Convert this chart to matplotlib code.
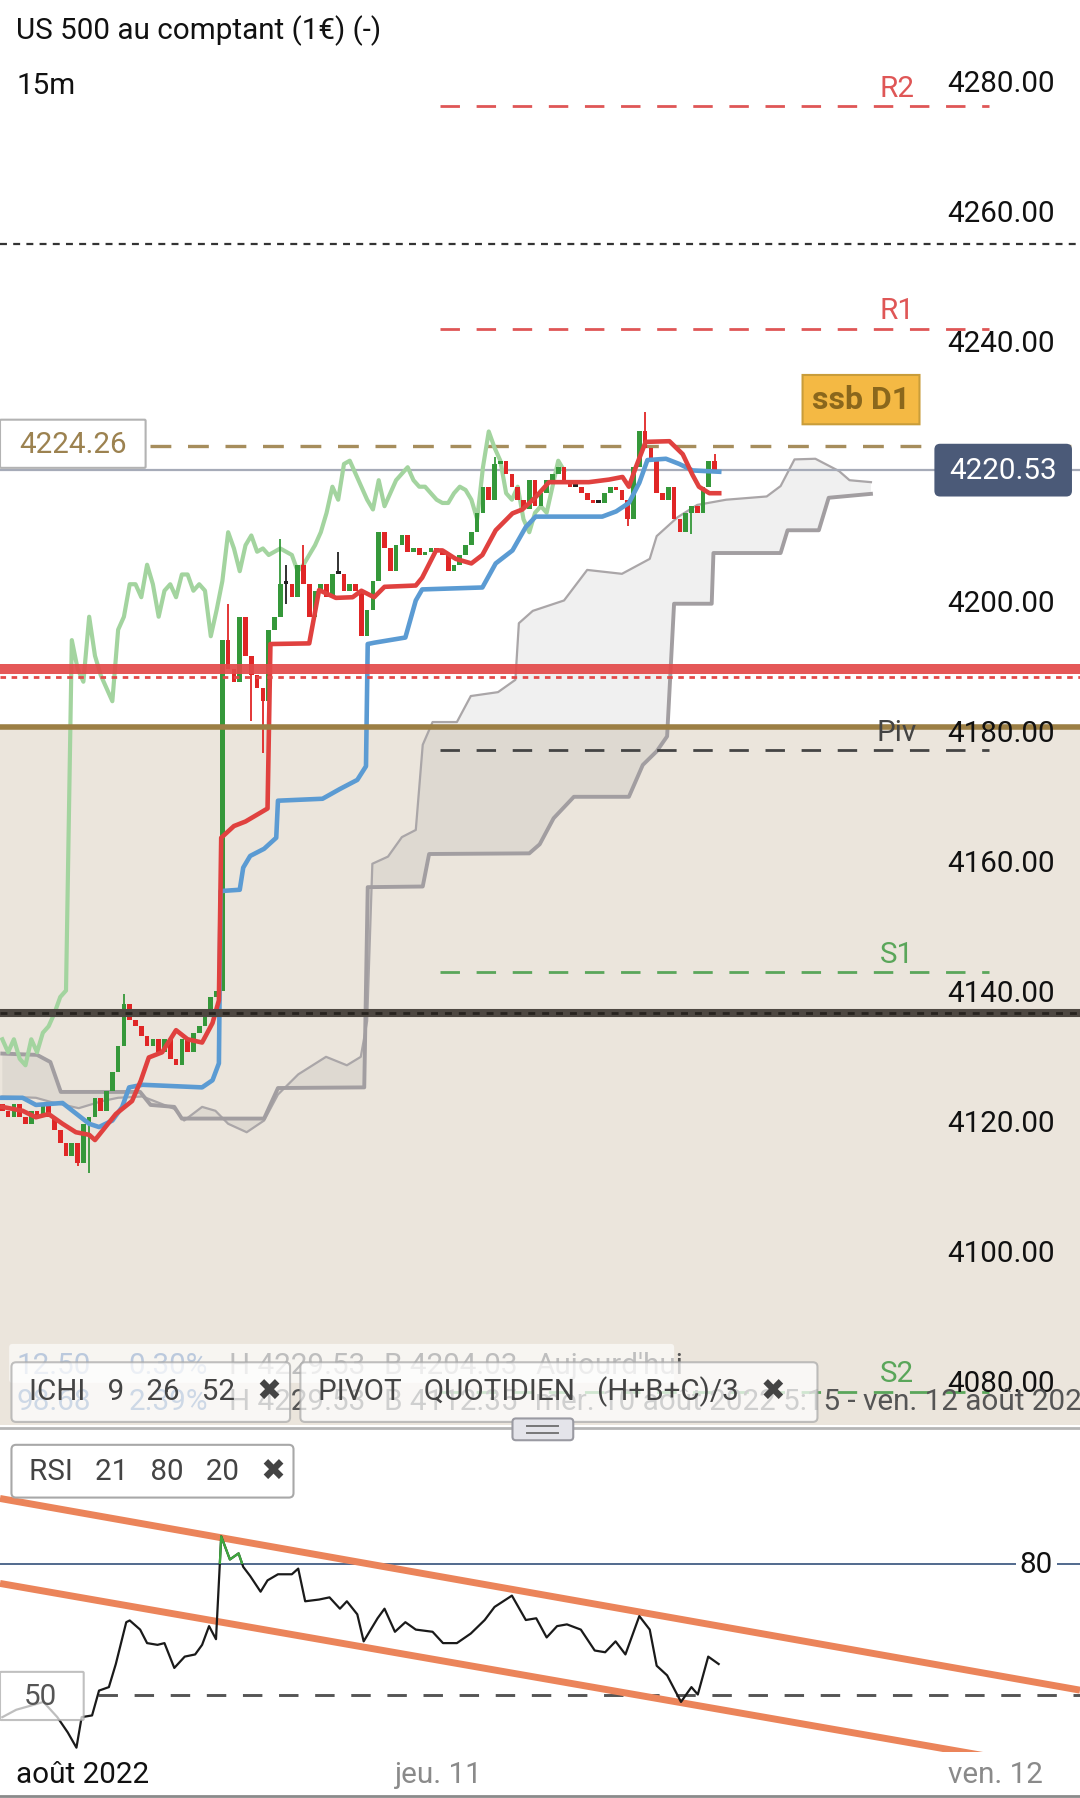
import numpy as np
import matplotlib
matplotlib.use("Agg")
import matplotlib.pyplot as plt
from matplotlib.patches import FancyBboxPatch, Rectangle

plt.rcParams['font.family'] = ['Roboto', 'DejaVu Sans']
plt.rcParams['lines.scale_dashes'] = False

# ---- candles (15m closes, open = previous close) ----
first_open = 4123
closes = [
    4122, 4121, 4123, 4121, 4120, 4122, 4121, 4123, 4121, 4119, 4117, 4115, 4117, 4114,
    4120, 4121, 4124, 4122, 4125, 4128, 4132, 4138.5, 4136, 4135, 4133.5, 4132, 4133, 4131,
    4133, 4130, 4129, 4133, 4131, 4134, 4135, 4137, 4139.5, 4140.5, 4194.4, 4190, 4188, 4198,
    4192, 4189, 4187, 4185, 4196, 4198, 4203, 4203, 4201, 4206, 4203, 4198, 4202, 4203,
    4201, 4204.5, 4204.5, 4202, 4203, 4202, 4195, 4199, 4203.5, 4211, 4208.5, 4205, 4209, 4210.5,
    4208, 4208.5, 4207.5, 4208, 4208.5, 4208, 4207.5, 4205, 4206, 4207.5, 4209, 4211, 4214, 4218,
    4216, 4221.5, 4222, 4220, 4218, 4216, 4214.5, 4219, 4215, 4217, 4219, 4220, 4221, 4219,
    4218, 4218, 4217, 4216, 4215.5, 4215.5, 4217, 4218, 4217.5, 4216, 4213, 4221, 4226.5, 4224,
    4222, 4217, 4216, 4218, 4213, 4211, 4214, 4215, 4214, 4218, 4222, 4220.5,
]
wick_high = {21: 4140, 39: 4200, 48: 4210, 49: 4206, 52: 4209, 58: 4208, 85: 4222.5, 111: 4229.5, 123: 4223}
wick_low = {13: 4113.5, 15: 4112.5, 43: 4182, 45: 4177, 49: 4200, 108: 4212, 119: 4210.8}

# ---- ichimoku lines, read as (bar, value) ----
tenkan = [(0, 4122.6), (3.5, 4122), (5.8, 4121), (8, 4121.5), (10.4, 4120), (12.7, 4118.7), (15, 4118.3),
          (16, 4117.5), (17.8, 4119.5), (19.6, 4121.5), (22.4, 4123.5), (23.9, 4126.6), (25.3, 4130.2),
          (27.6, 4131), (30, 4134.4), (32, 4133), (34.5, 4132.5), (36.3, 4135.5), (37.4, 4139), (37.8, 4164),
          (40, 4165.8), (42, 4166.5), (45.8, 4168.5), (46.3, 4193.8), (53, 4193.9), (54.7, 4202.1),
          (57.6, 4200.9), (60.5, 4201), (62, 4202), (64.2, 4201), (66, 4202.6), (71.4, 4202.8), (72.5, 4204),
          (74.9, 4208.2), (76, 4208.2), (78.3, 4206.9), (81, 4206.2), (82.9, 4207.5), (85.2, 4211.3),
          (88.1, 4213.9), (89.8, 4214.5), (92.1, 4216.4), (94.4, 4218.7), (101.3, 4218.7), (104.8, 4219.1),
          (107.1, 4219.5), (108.2, 4218), (109.4, 4221), (111.1, 4224.9), (115.2, 4225), (117.5, 4223),
          (119.2, 4219.8), (120.3, 4218), (122.1, 4217), (123.8, 4217)]
kijun = [(0, 4124), (3.5, 4124), (5.8, 4122.9), (10.4, 4123.2), (12.7, 4121.6), (15, 4120), (16.7, 4119.5),
         (19, 4120.5), (20.7, 4122.6), (21.9, 4125.6), (24.2, 4126), (34.5, 4125.6), (36.3, 4126.7),
         (37.4, 4129.3), (37.7, 4155.8), (41, 4156), (41.6, 4159.4), (42.8, 4161.2), (45.2, 4162.3),
         (47.3, 4164), (47.6, 4169.7), (55.3, 4170), (58.3, 4171.5), (61.3, 4172.9), (62.8, 4175),
         (63.1, 4193.8), (64.2, 4194), (69.6, 4194.8), (71.4, 4200.5), (72.5, 4202.2), (82.9, 4202.5),
         (85.2, 4206.2), (88.1, 4208.2), (90.4, 4211.8), (92.1, 4213.4), (103.6, 4213.4), (106, 4214.2),
         (108.2, 4215.5), (110, 4218.6), (111.4, 4222.1), (114.6, 4222.3), (116.9, 4221.5), (119.2, 4220.5),
         (123.8, 4220.3)]
senkou_a = [(0, 4124.2), (5.8, 4124), (8.6, 4123.3), (13.2, 4122.4), (17.3, 4123.5), (20, 4124), (24.2, 4124.2),
            (29.7, 4122.3), (31.4, 4120.5), (34.5, 4122.6), (36.8, 4122), (39, 4120), (42.2, 4118.7),
            (45.2, 4120.5), (47.6, 4124.5), (51.1, 4127.6), (55.9, 4130.3), (59.5, 4129), (61.9, 4130.3),
            (63, 4135.8), (63.9, 4160), (66.6, 4161.1), (69, 4164.1), (71.4, 4165.2), (72.6, 4178.3),
            (74.3, 4181.8), (78.5, 4181.8), (80.9, 4185.8), (85.6, 4186.4), (88.6, 4188.3), (89.2, 4197),
            (91.6, 4198.9), (97, 4200.5), (101, 4205.2), (107, 4204.6), (111.8, 4206.9), (113, 4210.4),
            (116.6, 4213.3), (120, 4215.2), (125, 4216), (132, 4216.5), (134.4, 4218.1), (136.8, 4222.2),
            (140.4, 4222.3), (144.5, 4220.4), (146.3, 4219), (150, 4218.7)]
senkou_b = [(0, 4130.8), (6, 4130.6), (8.3, 4129.5), (10.1, 4124.9), (23.8, 4124.9), (25.6, 4122.9),
            (29.7, 4122.6), (31, 4120.8), (45.2, 4120.8), (47.6, 4125.5), (62.5, 4125.6), (63.1, 4156.4),
            (72.6, 4156.5), (73.7, 4161.5), (91, 4161.6), (92.8, 4163), (95.2, 4167), (98.7, 4170.3),
            (108.2, 4170.3), (110.6, 4175.2), (113, 4177.3), (114.8, 4179.6), (116, 4200), (122.5, 4200),
            (122.8, 4207.8), (134.4, 4207.8), (135.6, 4211.3), (141, 4211.3), (142.7, 4216.3), (150, 4216.9)]
chikou_shift = 26

# ---- levels ----
price_ticks = [4280, 4260, 4240, 4220, 4200, 4180, 4160, 4140, 4120, 4100, 4080]
pivot_names = ['R2', 'R1', 'Piv', 'S1', 'S2']
pivot_levels = [4276.5, 4242.3, 4177.5, 4143.3, 4078.8]
pivot_colors = ['#df5656', '#df5656', '#444444', '#5aa65a', '#5aa65a']
pivot_span = (75.5, 170.3)
last_price = 4220.53
ssb_level = 4224.26
dotted_level = 4255.3
red_level = 4190.0
red_dotted_level = 4188.8
olive_level = 4181.0
dark_level = 4137.0

# ---- RSI ----
rsi = [(0, 44.8), (2.4, 46.5), (4.8, 47.4), (7.1, 48.3), (9.5, 44.8), (11.3, 41.3), (12.8, 37.8), (13.7, 44.8),
       (15.5, 45.2), (16.7, 50.9), (18.4, 51.7), (19.6, 57), (21.4, 66.6), (22, 67), (23.8, 64.9), (25, 61.8),
       (26.8, 61.4), (28, 61.8), (29.7, 56.1), (31.5, 58.7), (33.3, 59.2), (34.5, 61.4), (35.7, 65.7),
       (36.9, 62.7), (37.8, 86.3), (39.3, 81), (40.8, 82.4), (41.6, 79.3), (42.8, 77.2), (44.6, 73.6),
       (45.8, 76.2), (47.6, 77.6), (50, 77.6), (51.1, 78.9), (52.3, 71.4), (54.7, 71.8), (56.5, 72.3),
       (58.3, 69.7), (59.5, 71.4), (61.3, 68.4), (62.4, 62.2), (64.8, 67.5), (66, 69.7), (67.8, 64.4),
       (69.6, 66.6), (71.4, 64.9), (74.3, 64.4), (76.1, 61.8), (78.5, 61.8), (80.9, 64), (83.3, 67.1),
       (85, 70.1), (88, 72.7), (90.4, 67.1), (92.2, 67.5), (94, 63.1), (95.8, 65.7), (97.5, 66.1),
       (99.9, 64.9), (102.3, 60.1), (104.1, 59.7), (105.9, 62.2), (107.6, 59.2), (110, 68), (111.8, 64.9),
       (113, 56.6), (114.8, 54.4), (117.2, 48.3), (119, 51.7), (120.1, 50), (121.9, 58.7), (123.7, 57)]
rsi_upper_channel = [(-0.4, 95.0), (186.1, 51.0)]
rsi_lower_channel = [(-0.4, 75.5), (186.1, 32.1)]
rsi_high, rsi_mid = 80, 50

# ---- figure layout (reference measured on a 942 px wide grid) ----
W, H = 1080, 1798
S = W / 942.0
fig = plt.figure(figsize=(W / 100, H / 100), dpi=100)


def band(y0, y1):
    return [0, 1 - y1 * S / H, 1, (y1 - y0) * S / H]


ax = fig.add_axes(band(0, 1243))
rax = fig.add_axes(band(1250, 1528))
ov = fig.add_axes([0, 0, 1, 1])
ov.set_xlim(0, 942)
ov.set_ylim(1568, 0)
ov.axis('off')
ov.set_zorder(20)

XMIN, XMAX = -0.4, 186.1
ax.set_xlim(XMIN, XMAX)
ax.set_ylim(4073.65, 4292.87)
rax.set_xlim(XMIN, XMAX)
rax.set_ylim(36.84, 110)
for a in (ax, rax):
    a.set_axis_off()

FS = 21.3

# background zone below pivot
ax.axhspan(4000, olive_level, color='#ebe5dc', lw=0, zorder=0)

# cloud
sa = np.array(senkou_a)
sb = np.array(senkou_b)
ax.fill(np.r_[sa[:, 0], sb[::-1, 0]], np.r_[sa[:, 1], sb[::-1, 1]], color='#8e8e8e', alpha=0.13, lw=0, zorder=1)
ax.plot(sa[:, 0], sa[:, 1], color='#aaa6a8', lw=1.6, zorder=2)
ax.plot(sb[:, 0], sb[:, 1], color='#a29ea1', lw=2.8, zorder=2)

# horizontal levels
ax.axhline(dotted_level, color='#333333', lw=1.6, ls=(0, (5, 4.5)), zorder=3)
ax.axhline(ssb_level, color='#a68d5c', lw=2.4, ls=(0, (15, 12)), zorder=3)
ax.axhline(last_price, color='#a6abb8', lw=1.6, zorder=3)

# chikou
cl = np.array(closes)
bars = np.arange(len(cl))
ax.plot(bars[:-chikou_shift], cl[chikou_shift:], color='#a3d49f', lw=3.0, zorder=3, solid_joinstyle='round')

# candles
opens = np.r_[first_open, cl[:-1]]
cols = ['#35983a' if c > o else ('#e02626' if c < o else '#222222') for o, c in zip(opens, cl)]
tops = np.maximum(opens, cl)
bots = np.minimum(opens, cl)
highs = np.array([wick_high.get(i, t) for i, t in enumerate(tops)])
lows = np.array([wick_low.get(i, b) for i, b in enumerate(bots)])
ax.vlines(bars, lows, highs, colors=cols, lw=1.3, zorder=4)
ax.bar(bars, np.maximum(tops - bots, 0.5), bottom=bots, width=0.8, color=cols, lw=0, zorder=4)

# tenkan / kijun
tk = np.array(tenkan)
kj = np.array(kijun)
ax.plot(kj[:, 0], kj[:, 1], color='#5b9bd3', lw=3.3, zorder=5, solid_joinstyle='round')
ax.plot(tk[:, 0], tk[:, 1], color='#e0413f', lw=3.3, zorder=5, solid_joinstyle='round')

# strong levels
ax.axhline(red_level, color='#e34a4a', lw=7.2, alpha=0.92, zorder=6)
ax.axhline(red_dotted_level, color='#e34a4a', lw=2.0, ls=(0, (4, 4)), zorder=6)
ax.axhline(olive_level, color='#9c7f45', lw=4.0, zorder=6)
ax.axhline(dark_level, color='#4e4842', lw=5.8, zorder=6)
ax.axhline(dark_level, color='#27231f', lw=2.0, ls=(0, (5, 5)), zorder=6)

# daily pivots
for name, lvl, col in zip(pivot_names, pivot_levels, pivot_colors):
    ax.hlines(lvl, pivot_span[0], pivot_span[1], colors=col, lw=2.0, linestyles=[(0, (14, 12))], zorder=6)
    ax.annotate(name, (154.5, lvl), xytext=(0, 12.5), textcoords='offset points', ha='center', va='center',
                fontsize=FS, color=col, zorder=7)

# price scale
yt = ax.get_yaxis_transform()
for v in price_ticks:
    ax.text(0.9766, v, f'{v:.2f}', transform=yt, ha='right', va='center', fontsize=FS, color='#111111', zorder=8)


def box(x0, y0, x1, y1, fc, ec='none', lw=1.5, r=4, alpha=1.0, z=1):
    p = FancyBboxPatch((x0, y0), x1 - x0, y1 - y0, boxstyle=f'round,pad=0,rounding_size={r}',
                       fc=fc, ec=ec, lw=lw, alpha=alpha, zorder=z)
    ov.add_patch(p)


# price tags
box(815, 387, 935, 433, '#4b5a78', r=5, z=3)
ov.text(875, 411, f'{last_price:.2f}', ha='center', va='center', fontsize=FS, color='white', zorder=4)
box(0, 366, 127, 408, 'white', '#b3b3b3', r=1, z=3)
ov.text(64, 388, f'{ssb_level:.2f}', ha='center', va='center', fontsize=FS, color='#9c8250', zorder=4)
box(700, 327, 802, 370, '#f4b944', '#c99d3a', lw=1.5, r=0, z=3)
ov.text(751, 349, 'ssb D1', ha='center', va='center', fontsize=23, weight='bold', color='#8a671c', zorder=4)

# header
ov.text(14, 27, 'US 500 au comptant (1€) (-)', ha='left', va='center', fontsize=FS, color='#111111')
ov.text(14, 75, '15m', ha='left', va='center', fontsize=FS, color='#111111')

# info rows behind indicator legends
row_x = [14, 112, 200, 335, 467]
row1 = ['12.50', '0.30%', 'H 4229.53', 'B 4204.03', "Aujourd'hui"]
row2 = ['98.68', '2.39%', 'H 4229.53', 'B 4112.35', 'mer. 10 août 2022 5:15 - ven. 12 août 2022 3:15']
for x, t1, t2, k in zip(row_x, row1, row2, range(5)):
    c = '#4f74a6' if k < 2 else '#555555'
    ov.text(x, 1191, t1, ha='left', va='center', fontsize=FS, color=c, zorder=1)
    ov.text(x, 1223, t2, ha='left', va='center', fontsize=FS, color=c, zorder=1)
box(8, 1172, 588, 1206, 'white', alpha=0.62, r=3, z=2)
box(10, 1188, 253, 1240, 'white', '#a8a8a8', lw=1.5, r=4, alpha=0.72, z=3)
box(262, 1188, 713, 1240, 'white', '#a8a8a8', lw=1.5, r=4, alpha=0.72, z=3)
ov.text(25, 1214, 'ICHI   9   26   52   ✖', ha='left', va='center', fontsize=FS, color='#444444', zorder=4)
ov.text(277, 1214, 'PIVOT   QUOTIDIEN   (H+B+C)/3   ✖', ha='left', va='center', fontsize=FS,
        color='#444444', zorder=4)

# panel separator
ov.plot([0, 942], [1245, 1245], color='#b5b5b5', lw=2, zorder=2)
box(447, 1237, 500, 1256, '#e4e4ea', '#9a9aa2', lw=1.5, r=3, z=3)
ov.plot([460, 487], [1243.5, 1243.5], color='#777777', lw=1.4, zorder=4)
ov.plot([460, 487], [1249.5, 1249.5], color='#777777', lw=1.4, zorder=4)

# RSI panel
rx = np.array(rsi)
up = np.array(rsi_upper_channel)
lo = np.array(rsi_lower_channel)
rax.plot(up[:, 0], up[:, 1], color='#eb845a', lw=5.0, zorder=2, solid_capstyle='butt')
rax.plot(lo[:, 0], lo[:, 1], color='#eb845a', lw=5.0, zorder=2, solid_capstyle='butt')
rax.axhline(rsi_high, color='#34507a', lw=1.2, zorder=1)
rax.hlines(rsi_mid, 16.5, XMAX, colors='#555555', lw=2.1, linestyles=[(0, (14, 12))], zorder=1)
rax.plot(rx[:, 0], rx[:, 1], color='#1a1a1a', lw=1.6, zorder=3)
hot, = rax.plot(rx[:, 0], rx[:, 1], color='#3fa83f', lw=1.6, zorder=4)
hot.set_clip_path(Rectangle((XMIN, rsi_high), XMAX - XMIN, 60, transform=rax.transData))

box(10, 1260, 256, 1306, 'white', '#a8a8a8', lw=1.5, r=4, z=3)
ov.text(25, 1284, 'RSI   21   80   20   ✖', ha='left', va='center', fontsize=FS, color='#444444', zorder=4)
box(0, 1458, 73, 1500, 'white', '#a8a8a8', lw=1.5, r=1, alpha=0.72, z=3)
ov.text(35, 1480, '50', ha='center', va='center', fontsize=FS, color='#555555', zorder=4)
ov.text(904, 1365, '80', ha='center', va='center', fontsize=FS, color='#111111', zorder=4,
        bbox=dict(boxstyle='square,pad=0.12', fc='white', ec='none'))

# time axis
box(0, 1529, 145, 1568, 'white', r=0, z=3)
ov.text(14, 1548, 'août 2022', ha='left', va='center', fontsize=FS, color='#111111', zorder=4)
ov.text(383, 1548, 'jeu. 11', ha='center', va='center', fontsize=FS, color='#8a8a8a', zorder=4)
ov.text(868, 1548, 'ven. 12', ha='center', va='center', fontsize=FS, color='#8a8a8a', zorder=4)
ov.plot([0, 942], [1566, 1566], color='#8a8a8a', lw=2, zorder=4)

fig.savefig('out.png', dpi=100, facecolor='white')
